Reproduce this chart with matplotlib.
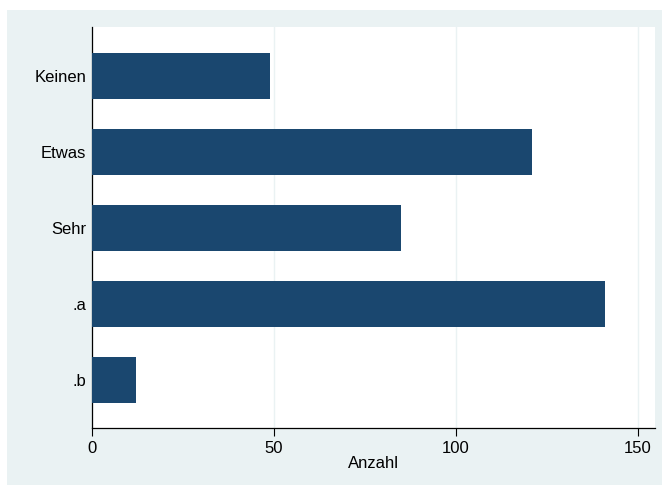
import matplotlib.pyplot as plt
from matplotlib.patches import Rectangle

categories = ['Keinen', 'Etwas', 'Sehr', '.a', '.b']
counts = [49, 121, 85, 141, 12]

plt.rcParams['font.family'] = ['Liberation Sans', 'DejaVu Sans']

bar_color = '#1a476f'
panel_color = '#eaf2f3'

fig = plt.figure(figsize=(6.62, 4.86), dpi=100)
fig.patch.set_facecolor('white')

# outer light panel (Stata style)
fig.add_artist(Rectangle((7 / 662, 1 / 486), 1 - 7 / 662, 475 / 486,
                         transform=fig.transFigure, facecolor=panel_color,
                         edgecolor='none', zorder=-10))

ax = fig.add_axes([92 / 662, 1 - 428 / 486, 563 / 662, 401 / 486])
ax.set_zorder(5)
ax.set_facecolor('white')

pos = list(range(len(categories)))
ax.barh(pos, counts, height=0.605, color=bar_color, zorder=3)

ax.set_ylim(4.63, -0.65)
ax.set_xlim(0, 154.7)
ax.set_yticks(pos)
ax.set_yticklabels(categories, fontsize=12)
ax.set_xticks([0, 50, 100, 150])
ax.set_xticklabels(['0', '50', '100', '150'], fontsize=12)
ax.tick_params(axis='y', length=0, pad=4)
ax.tick_params(axis='x', length=6, width=0.8, pad=3)

ax.grid(axis='x', color=panel_color, linewidth=1, zorder=0)
ax.set_axisbelow(True)

for s in ['top', 'right']:
    ax.spines[s].set_visible(False)
for s in ['left', 'bottom']:
    ax.spines[s].set_color('black')
    ax.spines[s].set_linewidth(0.9)

ax.set_xlabel('Anzahl', fontsize=12, labelpad=0)

fig.savefig('out.png', dpi=100)
